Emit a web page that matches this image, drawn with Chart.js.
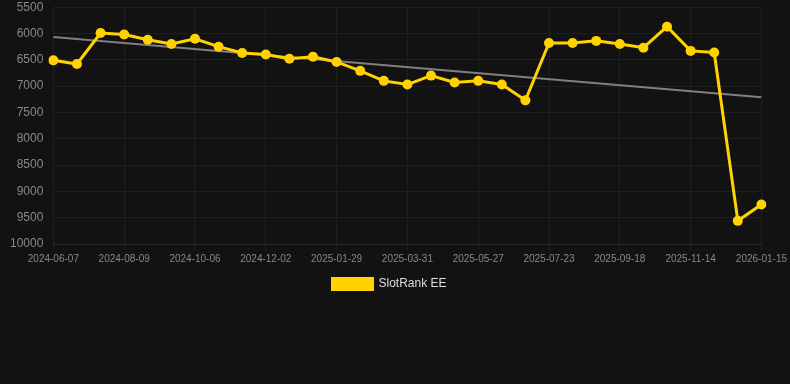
<!DOCTYPE html>
<html>
<head>
<meta charset="utf-8">
<script src="https://cdn.jsdelivr.net/npm/chart.js@4/dist/chart.umd.min.js"></script>
<style>
  html, body { margin: 0; padding: 0; background: #121212; }
  #wrap { width: 790px; height: 300px; position: relative; }
</style>
</head>
<body>
<div id="wrap"><canvas id="c"></canvas></div>
<script>
const dates = [
  "2024-06-07","2024-06-28","2024-07-19","2024-08-09","2024-08-28","2024-09-17",
  "2024-10-06","2024-10-25","2024-11-13","2024-12-02","2024-12-21","2025-01-09",
  "2025-01-29","2025-02-18","2025-03-10","2025-03-31","2025-04-18","2025-05-08",
  "2025-05-27","2025-06-14","2025-07-04","2025-07-23","2025-08-11","2025-08-30",
  "2025-09-18","2025-10-07","2025-10-26","2025-11-14","2025-12-04","2025-12-24",
  "2026-01-15"
];
const rankEE = [
  6510, 6580, 5990, 6020, 6120, 6200, 6100, 6250, 6370, 6400,
  6480, 6440, 6540, 6710, 6900, 6970, 6800, 6930, 6900, 6970,
  7270, 6180, 6180, 6140, 6200, 6270, 5870, 6330, 6360, 9560,
  9250
];
const trendStart = 6065;
const trendEnd = 7210;
const yTicks = [5500, 6000, 6500, 7000, 7500, 8000, 8500, 9000, 9500, 10000];

const trend = dates.map((d, i) => i === 0 ? trendStart : (i === dates.length - 1 ? trendEnd : null));

new Chart(document.getElementById('c'), {
  type: 'line',
  data: {
    labels: dates,
    datasets: [
      {
        label: 'SlotRank EE',
        data: rankEE,
        borderColor: '#FFD200',
        backgroundColor: '#FFD200',
        borderWidth: 3,
        pointRadius: 5,
        pointBorderWidth: 0,
        pointBackgroundColor: '#FFD200',
        tension: 0,
        order: 1
      },
      {
        label: 'trend',
        data: trend,
        borderColor: '#808080',
        borderWidth: 2,
        pointRadius: 0,
        spanGaps: true,
        order: 2
      }
    ]
  },
  options: {
    responsive: true,
    maintainAspectRatio: false,
    animation: false,
    layout: { autoPadding: false, padding: { left: 10, right: 21, top: 0, bottom: 0 } },
    plugins: {
      legend: {
        position: 'bottom',
        labels: {
          color: '#dddddd',
          font: { family: 'Liberation Sans, Arial', size: 12 },
          boxWidth: 40,
          boxHeight: 11,
          filter: (item) => item.text !== 'trend'
        }
      },
      tooltip: { enabled: false }
    },
    scales: {
      x: {
        offset: false,
        grid: {
          color: (ctx) => (ctx.index % 3 === 0 ? '#1f1f1f' : 'transparent'),
          tickColor: (ctx) => (ctx.index % 3 === 0 ? '#1f1f1f' : 'transparent'),
          tickLength: 6
        },
        border: { color: '#2a2a2a' },
        ticks: {
          autoSkip: false,
          maxRotation: 0,
          color: '#888888',
          font: { family: 'Liberation Sans, Arial', size: 10 },
          callback: function(v, i) { return i % 3 === 0 ? this.getLabelForValue(v) : ''; }
        }
      },
      y: {
        reverse: true,
        min: 5500,
        max: 10000,
        afterBuildTicks: (axis) => { axis.ticks = yTicks.map(v => ({ value: v })); },
        grid: { color: '#1f1f1f', drawTicks: true, tickLength: 10, tickColor: 'transparent' },
        border: { display: false },
        ticks: {
          color: '#888888',
          padding: 0,
          font: { family: 'Liberation Sans, Arial', size: 12 },
          callback: (v) => String(v)
        }
      }
    }
  }
});
</script>
</body>
</html>
